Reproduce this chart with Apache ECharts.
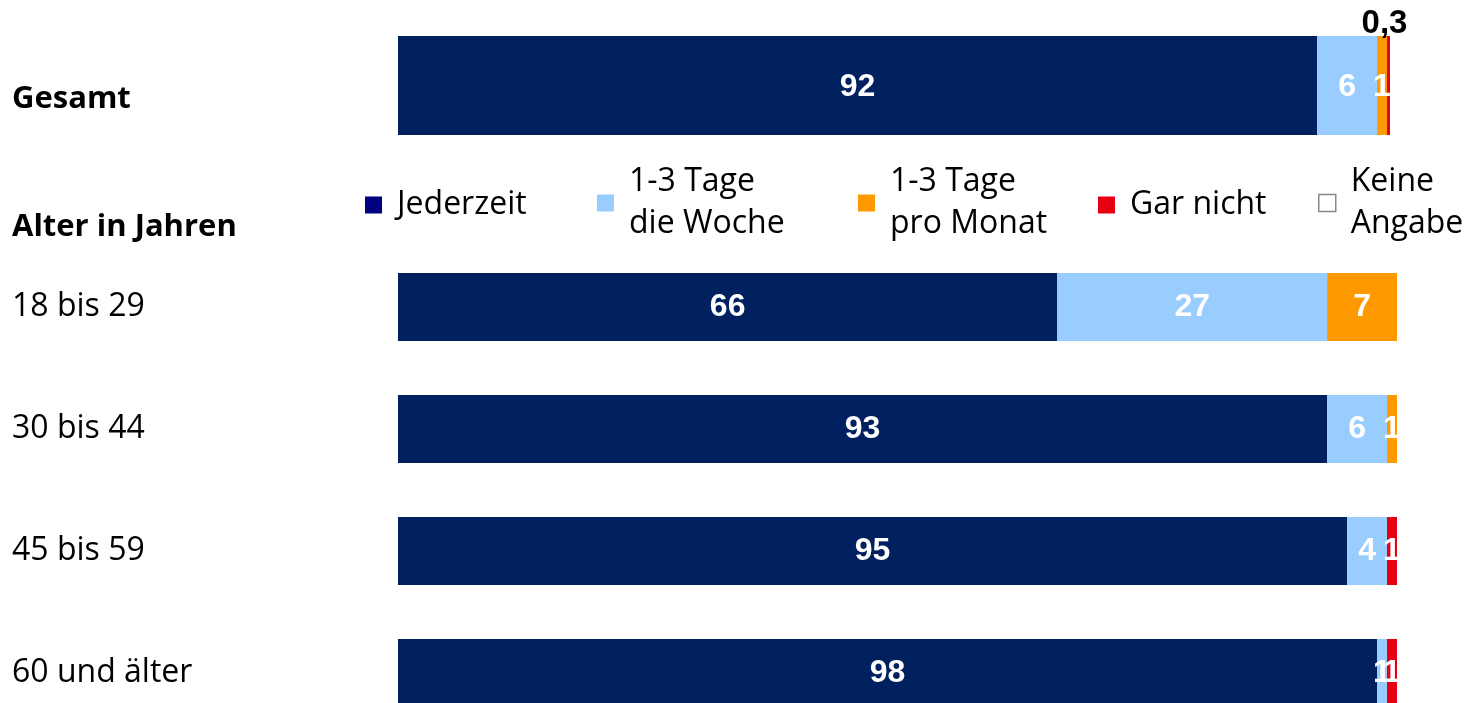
<!DOCTYPE html>
<html>
<head>
<meta charset="utf-8">
<script src="https://cdn.jsdelivr.net/npm/echarts@6/dist/echarts.min.js"></script>
<style>
    html, body {margin: 0; padding: 0; background: #fff;}
    #chart {width: 1481px; height: 703px;}
</style>
</head>
<body>
<div id="chart"></div>
<script>
// Daten
var seriesNames = ['Jederzeit', '1-3 Tage\ndie Woche', '1-3 Tage\npro Monat', 'Gar nicht', 'Keine\nAngabe'];
var gesamtLabel = ['Gesamt'];
var gesamtVals = [92, 6, 1, 0.3, 0.7];
var ageGroups = ['18 bis 29', '30 bis 44', '45 bis 59', '60 und älter'];
var jederzeit = [66, 93, 95, 98];
var tageWoche = [27, 6, 4, 1];
var tageMonat = [7, 1, 0, 0];
var garNicht = [0, 0, 1, 1];
var keineAngabe = [0, 0, 0, 0];

var barColors = ['#002060', '#99CCFF', '#FF9900', '#E60012', '#FFFFFF'];
var legendColors = ['#000080', '#99CCFF', '#FF9900', '#E60012', '#FFFFFF'];
// Legendenposition (x des Quadrats)
var legendLeft = [365, 597, 858, 1098, 1318];
var textFont = 'Open Sans';
var numFont = 'Liberation Sans';

var myChart = echarts.init(document.getElementById('chart'));

function fmt(v) {
    if (!v) return '';
    return String(v).replace('.', ',');
}

var series = [];
var ageData = [jederzeit, tageWoche, tageMonat, garNicht, keineAngabe];
for (let i = 0; i < seriesNames.length; i++) {
    // Gesamt
    let gLabel = {
        show: i < 4,
        position: 'inside',
        color: '#fff',
        fontFamily: numFont,
        fontWeight: 'bold',
        fontSize: 32,
        offset: [0, 2],
        formatter: function (p) { return fmt(p.value); }
    };
    if (i === 3) {
        gLabel.position = 'top';
        gLabel.color = '#000';
        gLabel.distance = 0;
        gLabel.offset = [-4, 4];
        gLabel.fontSize = 33;
    }
    series.push({
        name: seriesNames[i],
        type: 'bar',
        stack: 'gesamt',
        xAxisIndex: 0,
        yAxisIndex: 0,
        barWidth: 99,
        itemStyle: {color: barColors[i]},
        label: gLabel,
        data: [gesamtVals[i]]
    });
    // Alter in Jahren
    series.push({
        name: seriesNames[i],
        type: 'bar',
        stack: 'alter',
        xAxisIndex: 1,
        yAxisIndex: 1,
        barWidth: 68,
        itemStyle: {color: barColors[i]},
        label: {
            show: i < 4,
            position: 'inside',
            color: '#fff',
            fontFamily: numFont,
            fontWeight: 'bold',
            fontSize: 32,
            formatter: function (p) { return fmt(p.value); }
        },
        data: ageData[i]
    });
}

// eine Legende pro Eintrag, damit die Abstände passen
var legends = [];
for (let i = 0; i < seriesNames.length; i++) {
    let item = {name: seriesNames[i], itemStyle: {color: legendColors[i]}};
    if (i === 4) {
        item.itemStyle = {color: '#fff', borderColor: '#888', borderWidth: 1.5};
    }
    legends.push({
        left: legendLeft[i],
        top: i === 0 || i === 3 ? 184 : 161,
        icon: 'rect',
        itemWidth: 17,
        itemHeight: 17,
        selectedMode: false,
        padding: 0,
        textStyle: {
            fontFamily: textFont,
            fontSize: 32,
            lineHeight: 42,
            color: '#000',
            padding: [0, 0, 0, 10]
        },
        data: [item]
    });
}

var option = {
    animation: false,
    legend: legends,
    grid: [
        {left: 398, width: 999, top: 36, height: 99, outerBoundsMode: 'none'},
        {left: 398, width: 999, top: 246, height: 488, outerBoundsMode: 'none'}
    ],
    xAxis: [
        {type: 'value', gridIndex: 0, min: 0, max: 100, show: false},
        {type: 'value', gridIndex: 1, min: 0, max: 100, show: false}
    ],
    yAxis: [
        {
            type: 'category', gridIndex: 0, data: gesamtLabel, inverse: true,
            axisLine: {show: false}, axisTick: {show: false},
            axisLabel: {show: false}
        },
        {
            type: 'category', gridIndex: 1, data: ageGroups, inverse: true,
            axisLine: {show: false}, axisTick: {show: false},
            axisLabel: {
                margin: 386, align: 'left', color: '#000',
                fontFamily: textFont, fontSize: 32,
                padding: [4, 0, 0, 0]
            }
        }
    ],
    graphic: [
        {
            type: 'text', left: 12, top: 84,
            style: {
                text: gesamtLabel[0], fill: '#000',
                font: 'bold 31px "Open Sans"'
            }
        },
        {
            type: 'text', left: 12, top: 212,
            style: {
                text: 'Alter in Jahren', fill: '#000',
                font: 'bold 31px "Open Sans"'
            }
        }
    ],
    series: series
};

myChart.setOption(option);
</script>
</body>
</html>
